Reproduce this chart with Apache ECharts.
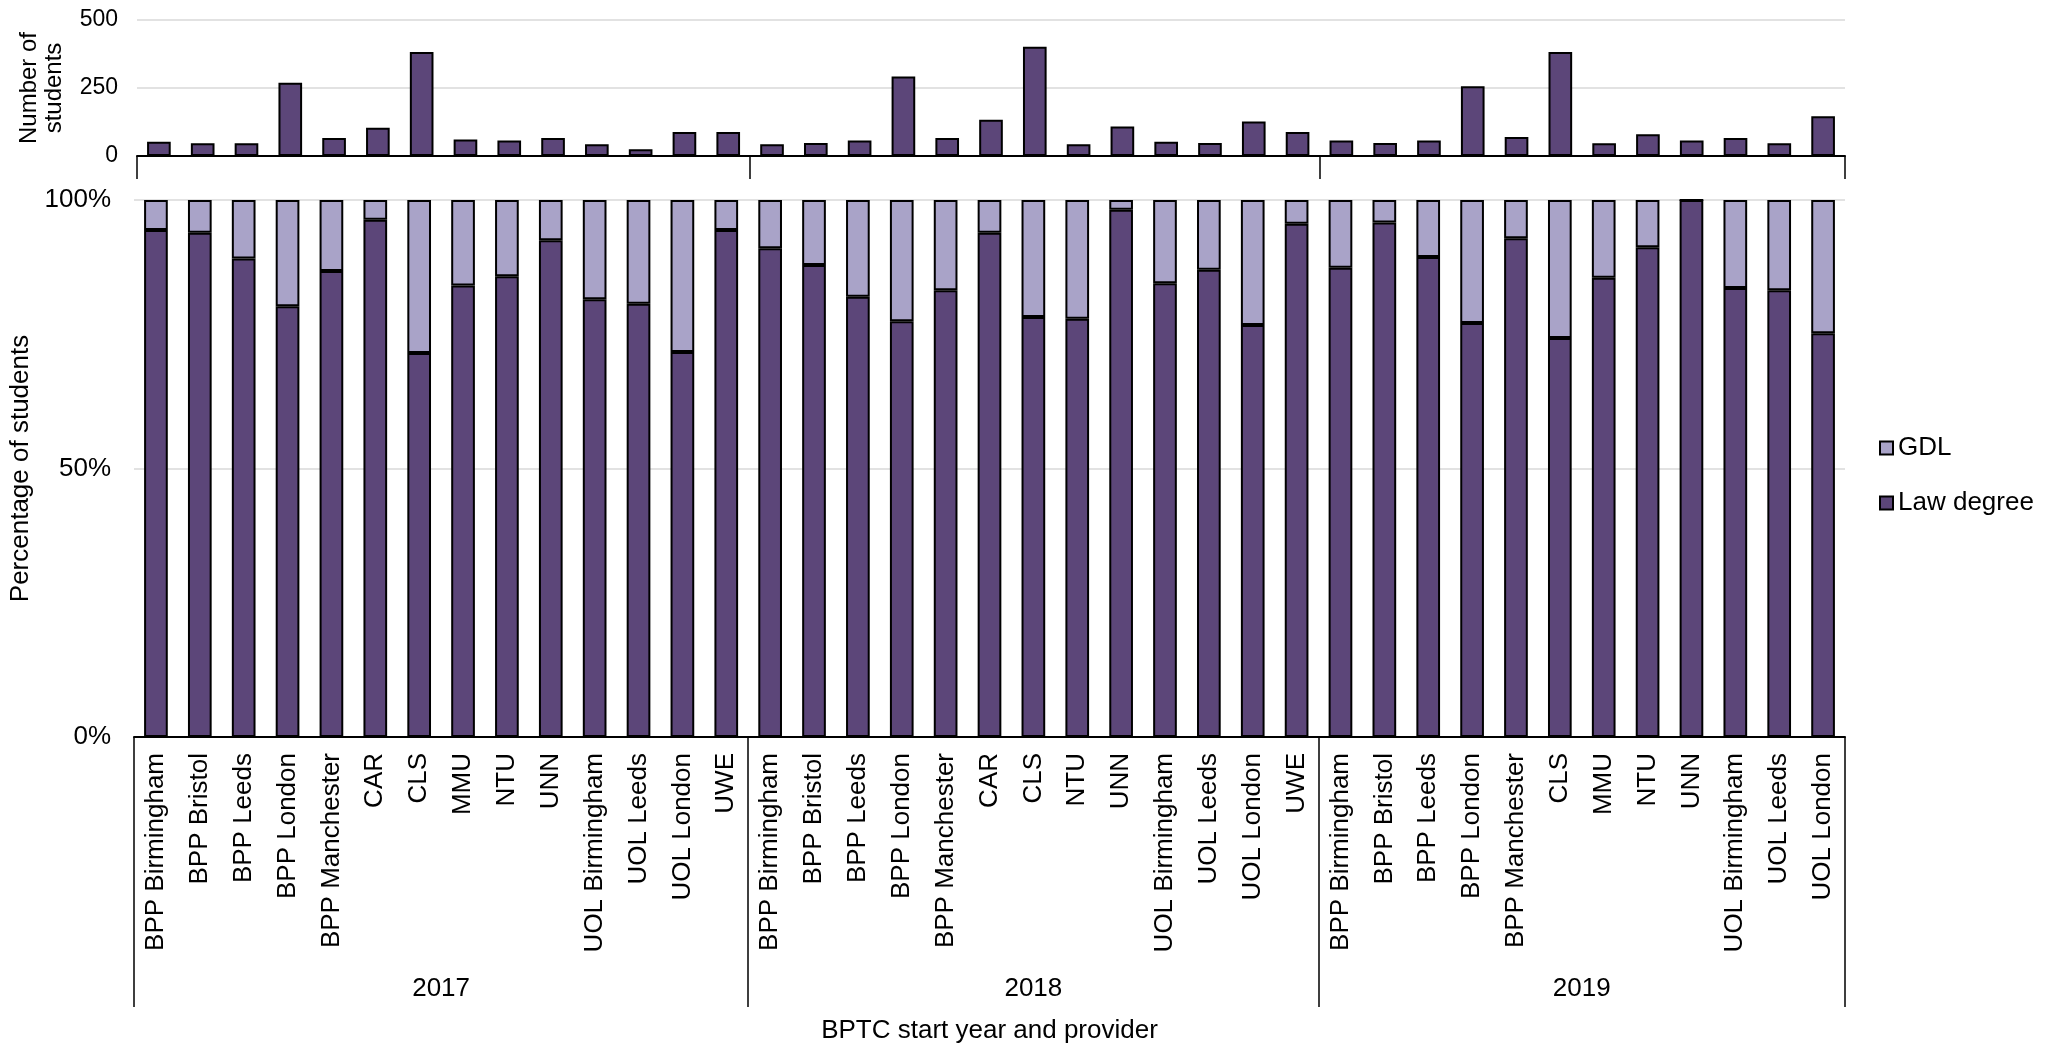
<!DOCTYPE html>
<html>
<head>
<meta charset="utf-8">
<script src="https://cdn.jsdelivr.net/npm/echarts@6/dist/echarts.min.js"></script>
<style>
html,body{margin:0;padding:0;background:#fff;}
#chart{width:2058px;height:1045px;}
</style>
</head>
<body>
<div id="chart"></div>
<script>
// ---- data ----
var years = ['2017', '2018', '2019'];
var providers2017 = ['BPP Birmingham','BPP Bristol','BPP Leeds','BPP London','BPP Manchester','CAR','CLS','MMU','NTU','UNN','UOL Birmingham','UOL Leeds','UOL London','UWE'];
var providers2018 = ['BPP Birmingham','BPP Bristol','BPP Leeds','BPP London','BPP Manchester','CAR','CLS','NTU','UNN','UOL Birmingham','UOL Leeds','UOL London','UWE'];
var providers2019 = ['BPP Birmingham','BPP Bristol','BPP Leeds','BPP London','BPP Manchester','CLS','MMU','NTU','UNN','UOL Birmingham','UOL Leeds','UOL London'];

var students2017 = [52, 47, 47, 269, 66, 104, 382, 61, 57, 66, 43, 25, 88, 88];
var students2018 = [43, 48, 57, 292, 66, 133, 402, 43, 108, 52, 48, 127, 88];
var students2019 = [57, 48, 57, 256, 70, 382, 47, 80, 57, 66, 47, 146];

var law2017 = [94.4, 93.9, 89.1, 80.2, 86.8, 96.3, 71.5, 84.1, 85.8, 92.5, 81.5, 80.7, 71.7, 94.4];
var law2018 = [91.0, 87.9, 82.0, 77.4, 83.2, 93.9, 78.2, 77.9, 98.2, 84.5, 87.0, 76.7, 95.6];
var law2019 = [87.4, 95.8, 89.4, 77.1, 92.9, 74.3, 85.5, 91.2, 100, 83.6, 83.2, 75.2];

var gdl2017 = [5.6, 6.1, 10.9, 19.8, 13.2, 3.7, 28.5, 15.9, 14.2, 7.5, 18.5, 19.3, 28.3, 5.6];
var gdl2018 = [9.0, 12.1, 18.0, 22.6, 16.8, 6.1, 21.8, 22.1, 1.8, 15.5, 13.0, 23.3, 4.4];
var gdl2019 = [12.6, 4.2, 10.6, 22.9, 7.1, 25.7, 14.5, 8.8, 0, 16.4, 16.8, 24.8];

var countTicks = [0, 250, 500];
var pctTicks = [0, 50, 100];

// ---- derived for the library ----
var providers = providers2017.concat(providers2018, providers2019);
var students = students2017.concat(students2018, students2019);
var law = law2017.concat(law2018, law2019);
var gdl = gdl2017.concat(gdl2018, gdl2019);
var groupSizes = [providers2017.length, providers2018.length, providers2019.length];
var bounds = [0];
groupSizes.forEach(function (s) { bounds.push(bounds[bounds.length - 1] + s); });
var yearCenters = groupSizes.map(function (s, i) { return bounds[i] + s / 2; });
var total = providers.length;

var FONT = '"Liberation Sans", Arial, sans-serif';
var DARK = '#5C4679';
var LIGHT = '#A9A3C8';
var GRID = '#d9d9d9';

var chart = echarts.init(document.getElementById('chart'));
chart.setOption({
  animation: false,
  backgroundColor: '#fff',
  textStyle: { fontFamily: FONT, color: '#000' },
  legend: {
    data: ['GDL', 'Law degree'],
    orient: 'vertical',
    left: 1879,
    top: 435,
    padding: 0,
    icon: 'rect',
    itemWidth: 13,
    itemHeight: 13,
    itemGap: 29,
    textStyle: { fontSize: 26, color: '#000', fontFamily: FONT }
  },
  grid: [
    { left: 137, right: 213, top: 20, height: 136, outerBoundsMode: 'none', containLabel: false },
    { left: 134, right: 213, top: 200, height: 537, outerBoundsMode: 'none', containLabel: false }
  ],
  xAxis: [
    {
      type: 'category', gridIndex: 0, data: providers,
      axisLine: { lineStyle: { color: '#000', width: 2 } },
      axisTick: { show: false }, axisLabel: { show: false }
    },
    {
      type: 'value', gridIndex: 0, min: 0, max: total, position: 'bottom',
      axisLine: { show: false }, splitLine: { show: false },
      axisLabel: { show: false, customValues: bounds },
      axisTick: { show: true, customValues: bounds, length: 23, lineStyle: { color: '#000', width: 1.5 } }
    },
    {
      type: 'category', gridIndex: 1, data: providers,
      axisLine: { lineStyle: { color: '#000', width: 2 } },
      axisTick: { show: false },
      axisLabel: { interval: 0, rotate: 90, fontSize: 26, margin: 16, color: '#000', fontFamily: FONT }
    },
    {
      type: 'value', gridIndex: 1, min: 0, max: total, position: 'bottom',
      axisLine: { show: false }, splitLine: { show: false },
      axisTick: { show: true, customValues: bounds, length: 270, lineStyle: { color: '#000', width: 1.5 } },
      axisLabel: {
        customValues: yearCenters, margin: 239, fontSize: 26, color: '#000', fontFamily: FONT,
        formatter: function (v) {
          for (var i = 0; i < yearCenters.length; i++) { if (Math.abs(yearCenters[i] - v) < 1e-6) return years[i]; }
          return '';
        }
      },
      name: 'BPTC start year and provider', nameLocation: 'middle', nameGap: 281,
      nameTextStyle: { fontSize: 26, color: '#000', fontFamily: FONT }
    }
  ],
  yAxis: [
    {
      type: 'value', gridIndex: 0, min: countTicks[0], max: countTicks[countTicks.length - 1], interval: countTicks[1] - countTicks[0],
      axisLine: { show: false }, axisTick: { show: false },
      axisLabel: { fontSize: 23, margin: 19, color: '#000', fontFamily: FONT },
      splitLine: { lineStyle: { color: GRID, width: 1.5 } },
      name: 'Number of\nstudents', nameLocation: 'middle', nameRotate: 90, nameGap: 70,
      nameTextStyle: { fontSize: 24, lineHeight: 25, color: '#000', fontFamily: FONT, align: 'center' }
    },
    {
      type: 'value', gridIndex: 1, min: pctTicks[0], max: pctTicks[pctTicks.length - 1], interval: pctTicks[1] - pctTicks[0],
      axisLine: { show: false }, axisTick: { show: false },
      axisLabel: { fontSize: 26, margin: 23, color: '#000', fontFamily: FONT, formatter: '{value}%' },
      splitLine: { lineStyle: { color: GRID, width: 1.5 } },
      name: 'Percentage of students', nameLocation: 'middle', nameRotate: 90, nameGap: 81,
      nameTextStyle: { fontSize: 26, color: '#000', fontFamily: FONT }
    }
  ],
  series: [
    {
      name: 'Number of students', type: 'bar', xAxisIndex: 0, yAxisIndex: 0,
      data: students, barWidth: '54%',
      itemStyle: { color: DARK, borderColor: '#000', borderWidth: 2 }
    },
    {
      name: 'Law degree', type: 'bar', xAxisIndex: 2, yAxisIndex: 1, stack: 'pct',
      data: law, barWidth: '54%',
      itemStyle: { color: DARK, borderColor: '#000', borderWidth: 2 }
    },
    {
      name: 'GDL', type: 'bar', xAxisIndex: 2, yAxisIndex: 1, stack: 'pct',
      data: gdl, barWidth: '54%',
      itemStyle: { color: LIGHT, borderColor: '#000', borderWidth: 2 }
    }
  ]
});
</script>
</body>
</html>
